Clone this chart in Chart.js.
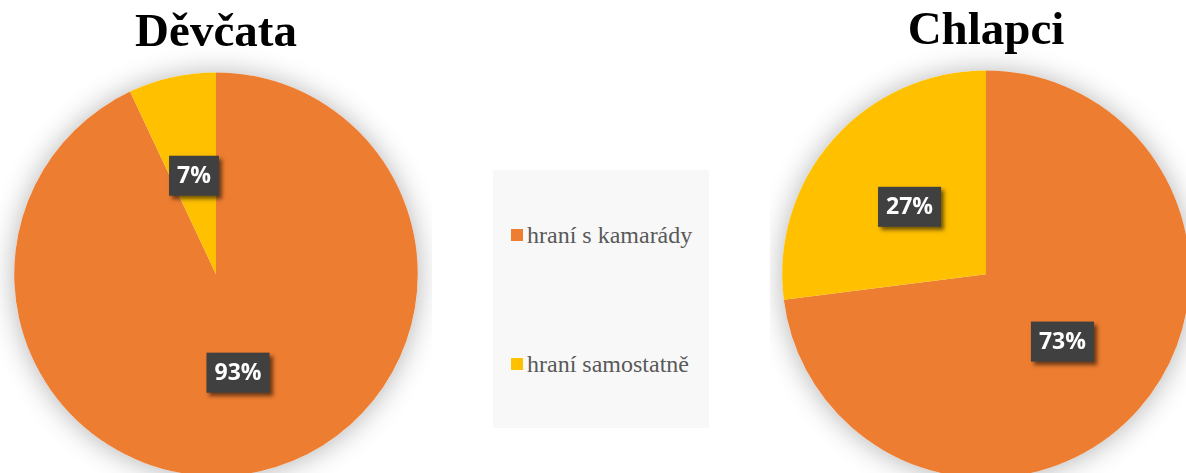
<!DOCTYPE html>
<html>
<head>
<meta charset="utf-8">
<script src="https://cdn.jsdelivr.net/npm/chart.js@4/dist/chart.umd.min.js"></script>
<style>
  html, body { margin: 0; padding: 0; background: #fff; width: 1186px; height: 473px; overflow: hidden; position: relative; }
  canvas { position: absolute; top: 0; }
  #girls-chart { left: 0; }
  #boys-chart { left: 770px; }
  #legend {
    position: absolute; left: 493px; top: 170px; width: 216px; height: 258px;
    background: #f8f8f8;
    display: flex; flex-direction: column; justify-content: space-around;
    font-family: 'Liberation Serif', 'Times New Roman', serif; font-size: 24px; color: #595959;
  }
  .item { display: flex; align-items: center; padding-left: 18px; white-space: nowrap; line-height: 24px; }
  .swatch { width: 12px; height: 12px; margin-right: 4px; }
</style>
</head>
<body>
<canvas id="girls-chart" width="432" height="480"></canvas>
<div id="legend"></div>
<canvas id="boys-chart" width="432" height="482"></canvas>
<script>
/* Data */
var CATEGORIES = ['hraní s kamarády', 'hraní samostatně'];
var GIRLS = [93, 7];
var BOYS = [73, 27];
var TITLES = ['Děvčata', 'Chlapci'];

/* Office-like palette */
var COLORS = ['#ED7D31', '#FFC000'];

/* Soft shadow under the whole pie, drawn before the slices */
var pieShadow = {
  id: 'pieShadow',
  beforeDatasetsDraw: function (chart) {
    var arc = chart.getDatasetMeta(0).data[0];
    if (!arc) return;
    var ctx = chart.ctx;
    ctx.save();
    ctx.shadowColor = 'rgba(0,0,0,0.3)';
    ctx.shadowBlur = 28;
    ctx.shadowOffsetY = 1;
    ctx.fillStyle = '#fff';
    ctx.beginPath();
    ctx.arc(arc.x, arc.y, arc.outerRadius, 0, Math.PI * 2);
    ctx.fill();
    ctx.restore();
  }
};

/* Dark percentage boxes in the middle of each slice */
var labelBoxes = {
  id: 'labelBoxes',
  afterDatasetsDraw: function (chart) {
    var ctx = chart.ctx;
    var meta = chart.getDatasetMeta(0);
    var values = chart.data.datasets[0].data;
    ctx.save();
    ctx.font = 'bold 23px "Open Sans", sans-serif';
    ctx.textAlign = 'center';
    ctx.textBaseline = 'middle';
    meta.data.forEach(function (arc, i) {
      var pos = arc.tooltipPosition();
      var text = values[i] + '%';
      var w = ctx.measureText(text).width + 16;
      var h = 40;
      ctx.shadowColor = 'rgba(0,0,0,0.55)';
      ctx.shadowBlur = 4;
      ctx.shadowOffsetX = 3;
      ctx.shadowOffsetY = 3;
      ctx.fillStyle = '#404040';
      ctx.fillRect(pos.x - w / 2, pos.y - h / 2, w, h);
      ctx.shadowColor = 'transparent';
      ctx.fillStyle = '#ffffff';
      ctx.fillText(text, pos.x, pos.y + 1);
    });
    ctx.restore();
  }
};

function renderPie(canvasId, title, values, padding) {
  return new Chart(document.getElementById(canvasId), {
    type: 'pie',
    data: {
      labels: CATEGORIES,
      datasets: [{
        data: values,
        backgroundColor: COLORS,
        borderWidth: 0
      }]
    },
    options: {
      responsive: false,
      animation: false,
      layout: { padding: padding },
      plugins: {
        legend: { display: false },
        tooltip: { enabled: false },
        title: {
          display: true,
          text: title,
          color: '#000',
          padding: { top: 2, bottom: 10 },
          font: { family: "'Liberation Serif', 'Times New Roman', serif", size: 47, weight: 'bold' }
        }
      }
    },
    plugins: [pieShadow, labelBoxes]
  });
}

renderPie('girls-chart', TITLES[0], GIRLS, { top: 4, left: 14, right: 14, bottom: 4 });
renderPie('boys-chart', TITLES[1], BOYS, { top: 2, left: 12, right: 12, bottom: 4 });

/* HTML legend shared by both pies */
var legend = document.getElementById('legend');
CATEGORIES.forEach(function (name, i) {
  var item = document.createElement('div');
  item.className = 'item';
  var sw = document.createElement('span');
  sw.className = 'swatch';
  sw.style.background = COLORS[i];
  var label = document.createElement('span');
  label.textContent = name;
  item.appendChild(sw);
  item.appendChild(label);
  legend.appendChild(item);
});
</script>
</body>
</html>
